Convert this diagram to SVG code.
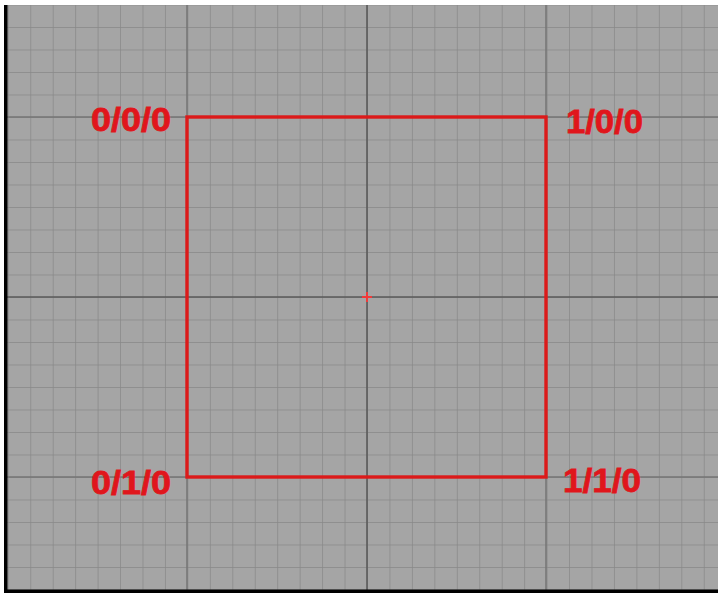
<svg xmlns="http://www.w3.org/2000/svg" width="718" height="593" viewBox="0 0 718 593">
<style>
.g{stroke:#878787;stroke-width:1.4}
.m{stroke:#747474;stroke-width:1.5}
.lbl{font-family:"Liberation Sans",Arial,sans-serif;font-weight:bold;font-size:33px;fill:#e0161c;stroke:#e0161c;stroke-width:0.8}
</style>
<defs>
<pattern id="grid" x="367" y="297" width="22.45" height="22.5" patternUnits="userSpaceOnUse">
<line class="g" x1="0" y1="0" x2="0" y2="22.5"/>
<line class="g" x1="0" y1="0" x2="22.45" y2="0"/>
</pattern>
</defs>
<rect width="718" height="593" fill="#fff"/>
<g id="background">
<rect x="7" y="5" width="711" height="585" fill="#a5a5a5"/>
<rect x="7" y="5" width="711" height="585" fill="url(#grid)"/>
<line class="m" x1="187" y1="5" x2="187" y2="590"/>
<line class="m" x1="546" y1="5" x2="546" y2="590"/>
<line class="m" x1="7" y1="117" x2="718" y2="117"/>
<line class="m" x1="7" y1="477" x2="718" y2="477"/>
<line stroke="#5a5a5a" stroke-width="1.6" x1="367" y1="5" x2="367" y2="590"/>
<line stroke="#5a5a5a" stroke-width="1.6" x1="7" y1="297" x2="718" y2="297"/>
<rect x="4" y="5" width="3.5" height="588" fill="#000"/>
<rect x="4" y="589.5" width="714" height="3.5" fill="#000"/>
</g>
<g id="square">
<rect x="187" y="117" width="359" height="360" fill="none" stroke="#dc1a1a" stroke-width="3.4"/>
</g>
<g id="center">
<path d="M362 297H372M367 292V302" stroke="#f03a3a" stroke-width="2"/>
</g>
<g id="label-000"><text class="lbl" x="91" y="131" textLength="80" lengthAdjust="spacingAndGlyphs">0/0/0</text></g>
<g id="label-100"><text class="lbl" x="566" y="133" textLength="77" lengthAdjust="spacingAndGlyphs">1/0/0</text></g>
<g id="label-010"><text class="lbl" x="91" y="494" textLength="80" lengthAdjust="spacingAndGlyphs">0/1/0</text></g>
<g id="label-110"><text class="lbl" x="563" y="492" textLength="78" lengthAdjust="spacingAndGlyphs">1/1/0</text></g>
</svg>
